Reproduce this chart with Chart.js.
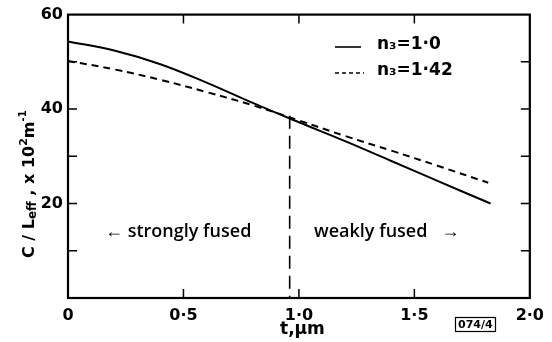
<!DOCTYPE html>
<html>
<head>
<meta charset="utf-8">
<script src="https://cdn.jsdelivr.net/npm/chart.js@4.4.1/dist/chart.umd.min.js"></script>
<style>
  html, body { margin: 0; padding: 0; background: #fff; }
  #wrap { width: 552px; height: 342px; }
</style>
</head>
<body>
<div id="wrap"><canvas id="chart" width="552" height="342"></canvas></div>
<script>
// values
const tSolid = [0, 0.2, 0.4, 0.6, 0.8, 1.0, 1.2, 1.4, 1.6, 1.83];
const cSolid = [54.3, 52.4, 49.5, 45.6, 41.3, 37.2, 33.2, 29.0, 24.8, 20.0];
const tDashed = [0, 0.2, 0.4, 0.6, 0.8, 1.0, 1.2, 1.4, 1.6, 1.82];
const cDashed = [50.2, 48.4, 46.2, 43.6, 40.8, 37.6, 34.3, 31.2, 28.0, 24.4];
const tBoundary = [0.96, 0.96];
const cBoundary = [38.6, 0];
const seriesLabels = ["n\u2083=1\u00b70", "n\u2083=1\u00b742"];
const yLabelled = [20, 40, 60];

const toPoints = (xs, ys) => xs.map((x, i) => ({ x: x, y: ys[i] }));
const fmtX = (v) => (v === 0 ? "0" : v.toFixed(1).replace(".", "\u00b7"));

const tickFont = { family: "DejaVu Sans", size: 16, weight: "bold" };

const framePlugin = {
    id: "frame",
    afterDraw: function (chart) {
        const ctx = chart.ctx;
        const a = chart.chartArea;
        const xs = chart.scales.x;
        const ys = chart.scales.y;
        ctx.save();
        ctx.strokeStyle = "#000";
        ctx.lineWidth = 2.2;
        ctx.strokeRect(a.left, a.top, a.right - a.left, a.bottom - a.top);

        // inward ticks on all four sides
        ctx.lineWidth = 1.5;
        ctx.beginPath();
        xs.ticks.forEach((t) => {
            if (t.value <= xs.min || t.value >= xs.max) return;
            const px = xs.getPixelForValue(t.value);
            ctx.moveTo(px, a.bottom);
            ctx.lineTo(px, a.bottom - 9);
            ctx.moveTo(px, a.top);
            ctx.lineTo(px, a.top + 9);
        });
        ys.ticks.forEach((t) => {
            if (t.value <= ys.min || t.value >= ys.max) return;
            const py = ys.getPixelForValue(t.value);
            ctx.moveTo(a.left, py);
            ctx.lineTo(a.left + 9, py);
            ctx.moveTo(a.right, py);
            ctx.lineTo(a.right - 9, py);
        });
        ctx.stroke();

        // legend
        ctx.lineWidth = 1.6;
        ctx.beginPath();
        ctx.moveTo(335, 47);
        ctx.lineTo(361, 47);
        ctx.stroke();
        ctx.setLineDash([4, 3]);
        ctx.beginPath();
        ctx.moveTo(335, 73);
        ctx.lineTo(364, 73);
        ctx.stroke();
        ctx.setLineDash([]);
        ctx.fillStyle = "#000";
        ctx.textBaseline = "middle";
        ctx.font = "bold 17px 'DejaVu Sans'";
        ctx.fillText(seriesLabels[0], 377, 45);
        ctx.fillText(seriesLabels[1], 377, 71);

        // region annotations
        ctx.font = "600 18px 'Open Sans'";
        ctx.fillText("\u2190 strongly fused", 105, 232);
        ctx.fillText("weakly fused   \u2192", 314, 232);

        // x title
        ctx.font = "bold 17px 'DejaVu Sans'";
        ctx.fillText("t,\u03bcm", 280, 330);

        // figure code box
        ctx.font = "bold 11px 'DejaVu Sans'";
        ctx.fillText("074/4", 458, 325);
        ctx.lineWidth = 1.2;
        ctx.strokeRect(455.5, 317.5, 40, 14);

        // y title, rotated with subscript
        ctx.translate(28, 178);
        ctx.rotate(-Math.PI / 2);
        ctx.textBaseline = "alphabetic";
        let x = -80;
        const put = (txt, font, dy) => {
            ctx.font = font;
            ctx.fillText(txt, x, 6 + dy);
            x += ctx.measureText(txt).width;
        };
        put("C / L", "bold 16px 'DejaVu Sans'", 0);
        put("eff", "bold 12px 'DejaVu Sans'", 2);
        put(" , x 10", "bold 16px 'DejaVu Sans'", 0);
        put("2", "bold 11px 'DejaVu Sans'", -7);
        put("m", "bold 16px 'DejaVu Sans'", 0);
        put("-1", "bold 10px 'DejaVu Sans'", -8);
        ctx.restore();
    },
};

new Chart(document.getElementById("chart"), {
    type: "scatter",
    data: {
        datasets: [
            {
                label: seriesLabels[0],
                data: toPoints(tSolid, cSolid),
                showLine: true,
                borderColor: "#000",
                borderWidth: 2,
                pointRadius: 0,
                tension: 0.4,
            },
            {
                label: seriesLabels[1],
                data: toPoints(tDashed, cDashed),
                showLine: true,
                borderColor: "#000",
                borderWidth: 2,
                borderDash: [7, 5],
                pointRadius: 0,
                tension: 0.4,
            },
            {
                label: "boundary",
                data: toPoints(tBoundary, cBoundary),
                showLine: true,
                borderColor: "#000",
                borderWidth: 1.6,
                borderDash: [13, 7],
                pointRadius: 0,
            },
        ],
    },
    options: {
        responsive: false,
        animation: false,
        layout: { padding: { top: 14, right: 15, left: 0, bottom: 0 } },
        plugins: {
            legend: { display: false },
            tooltip: { enabled: false },
        },
        scales: {
            x: {
                type: "linear",
                min: 0,
                max: 2,
                grid: { display: false, drawTicks: false },
                border: { display: false },
                ticks: {
                    stepSize: 0.5,
                    color: "#000",
                    font: tickFont,
                    padding: 8,
                    maxRotation: 0,
                    callback: (v) => fmtX(v),
                },
                afterFit: (s) => {
                    s.height = 44;
                },
            },
            y: {
                min: 0,
                max: 60,
                grid: { display: false, drawTicks: false },
                border: { display: false },
                ticks: {
                    stepSize: 10,
                    color: "#000",
                    font: tickFont,
                    padding: 5,
                    callback: (v) => (yLabelled.includes(v) ? String(v) : ""),
                },
                afterFit: (s) => {
                    s.width = 68;
                },
            },
        },
    },
    plugins: [framePlugin],
});
</script>
</body>
</html>
